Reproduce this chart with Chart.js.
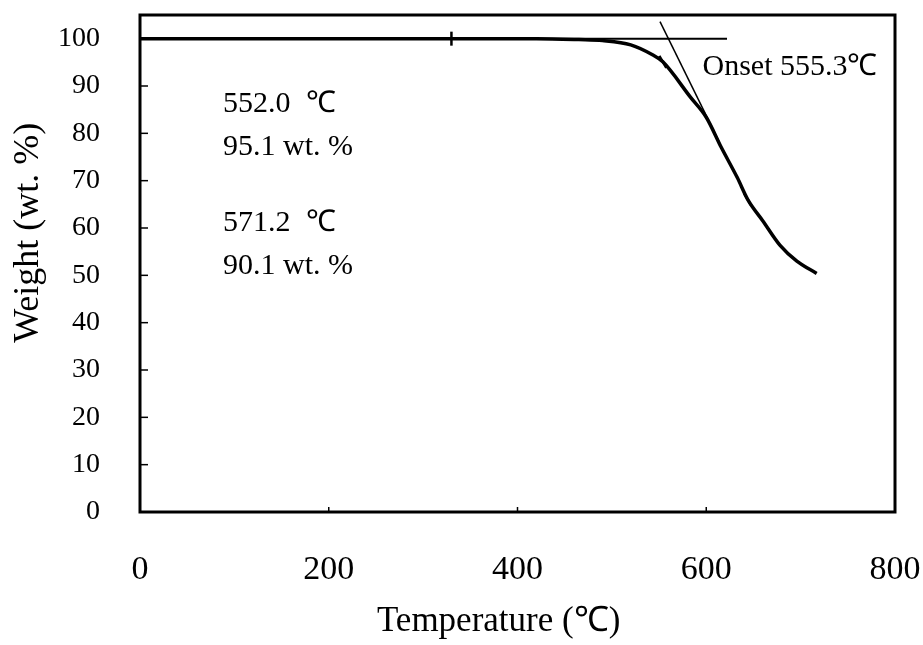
<!DOCTYPE html>
<html>
<head>
<meta charset="utf-8">
<script src="https://cdn.jsdelivr.net/npm/chart.js@4.4.0/dist/chart.umd.min.js"></script>
<style>
html, body { margin: 0; padding: 0; background: #fff; }
#wrap { width: 923px; height: 645px; }
</style>
</head>
<body>
<div id="wrap"><canvas id="tgaChart"></canvas></div>
<script>
// TGA trace (temperature in deg C, weight in wt. %)
const tempC = [0, 330, 420, 465, 490, 520, 543, 554, 583, 600, 616, 633, 644, 660, 678, 696, 717];
const weightPct = [100, 100, 100, 99.8, 99.6, 98.7, 96.6, 95.1, 87.7, 83.4, 77.0, 70.6, 66.0, 61.5, 56.4, 53.0, 50.4];
// horizontal baseline and onset tangent
const baseTemp = [0, 622];
const baseWeight = [100, 100];
const tangentTemp = [551, 614];
const tangentWeight = [103.6, 78.1];
// small marks drawn on the trace
const markTemp = [330, 554, 644];
const markWeight = [100, 95.1, 66.0];
const markAngle = [90, 60, 60];
// axis ticks and titles
const xTickValues = [0, 200, 400, 600, 800];
const yTickValues = [0, 10, 20, 30, 40, 50, 60, 70, 80, 90, 100];
const xTitle = 'Temperature (\u2103)';
const yTitle = 'Weight (wt. %)';
// text notes inside the plot
const noteTexts = ["552.0  \u2103", "95.1 wt. %", "571.2  \u2103", "90.1 wt. %", "Onset 555.3\u2103"];
const noteTemp = [88, 88, 88, 88, 596];
const noteWeight = [86.2, 77.0, 61.1, 51.9, 94.0];

const serif = '"Liberation Serif", "Times New Roman", serif';

function toPoints(xs, ys) {
    return xs.map((v, i) => ({ x: v, y: ys[i] }));
}

const framePlugin = {
    id: 'framePlugin',
    beforeDraw(chart) {
        const ctx = chart.ctx;
        ctx.save();
        ctx.fillStyle = '#fff';
        ctx.fillRect(0, 0, chart.width, chart.height);
        ctx.restore();
    },
    afterDraw(chart) {
        const ctx = chart.ctx;
        const a = chart.chartArea;
        const sx = chart.scales.x, sy = chart.scales.y;
        ctx.save();
        ctx.strokeStyle = '#000';
        ctx.lineWidth = 1.5;
        // inward tick marks
        yTickValues.forEach(v => {
            const py = sy.getPixelForValue(v);
            ctx.beginPath();
            ctx.moveTo(a.left, py);
            ctx.lineTo(a.left + 8, py);
            ctx.stroke();
        });
        xTickValues.slice(1, -1).forEach(v => {
            const px = sx.getPixelForValue(v);
            ctx.beginPath();
            ctx.moveTo(px, a.bottom);
            ctx.lineTo(px, a.bottom - 5);
            ctx.stroke();
        });
        ctx.lineWidth = 3;
        ctx.strokeRect(a.left, a.top, a.right - a.left, a.bottom - a.top);
        ctx.fillStyle = '#000';
        ctx.textBaseline = 'middle';
        // axis titles (sit a little left of / above the plot centre, as in the figure)
        ctx.textAlign = 'center';
        ctx.font = '35px ' + serif;
        ctx.fillText(xTitle, sx.getPixelForValue(380), sx.bottom - 23);
        ctx.save();
        ctx.translate(sy.left + 29, sy.getPixelForValue(59));
        ctx.rotate(-Math.PI / 2);
        ctx.font = '36px ' + serif;
        ctx.fillText(yTitle, 0, 0);
        ctx.restore();
        // notes
        ctx.font = '30px ' + serif;
        ctx.textAlign = 'left';
        noteTexts.forEach((t, i) => {
            ctx.fillText(t, sx.getPixelForValue(noteTemp[i]), sy.getPixelForValue(noteWeight[i]));
        });
        ctx.restore();
    }
};

var ctx = document.getElementById('tgaChart').getContext('2d');
var chartTga = new Chart(ctx, {
    type: 'line',
    data: {
        datasets: [
            {
                label: 'Baseline',
                data: toPoints(baseTemp, baseWeight),
                borderColor: '#000',
                borderWidth: 2,
                pointRadius: 0
            },
            {
                label: 'Weight',
                data: toPoints(tempC, weightPct),
                borderColor: '#000',
                borderWidth: 3.5,
                pointRadius: 0,
                cubicInterpolationMode: 'monotone'
            },
            {
                label: 'Tangent',
                data: toPoints(tangentTemp, tangentWeight),
                borderColor: '#000',
                borderWidth: 1.5,
                pointRadius: 0
            },
            {
                label: 'Marks',
                data: toPoints(markTemp, markWeight),
                showLine: false,
                pointStyle: 'line',
                pointRadius: 7,
                pointRotation: markAngle,
                borderColor: '#000',
                pointBorderWidth: 2.5
            }
        ]
    },
    options: {
        responsive: true,
        maintainAspectRatio: false,
        animation: false,
        layout: { padding: { top: 15, right: 28, left: 0, bottom: 0 } },
        plugins: { legend: { display: false }, tooltip: { enabled: false } },
        scales: {
            x: {
                type: 'linear',
                min: 0,
                max: 800,
                afterFit: s => { s.height = 133; s.paddingLeft = 0; s.paddingRight = 0; },
                afterBuildTicks: s => { s.ticks = xTickValues.map(v => ({ value: v })); },
                grid: { display: false, drawTicks: false },
                border: { display: false },
                ticks: { color: '#000', padding: 38, font: { family: serif, size: 34 } },
                title: { display: false }
            },
            y: {
                type: 'linear',
                min: 0,
                max: 105,
                afterFit: s => { s.width = 140; s.paddingTop = 0; s.paddingBottom = 0; },
                afterBuildTicks: s => { s.ticks = yTickValues.map(v => ({ value: v })); },
                grid: { display: false, drawTicks: false },
                border: { display: false },
                ticks: { color: '#000', padding: 40, font: { family: serif, size: 28 } },
                title: { display: false }
            }
        }
    },
    plugins: [framePlugin]
});
</script>
</body>
</html>
